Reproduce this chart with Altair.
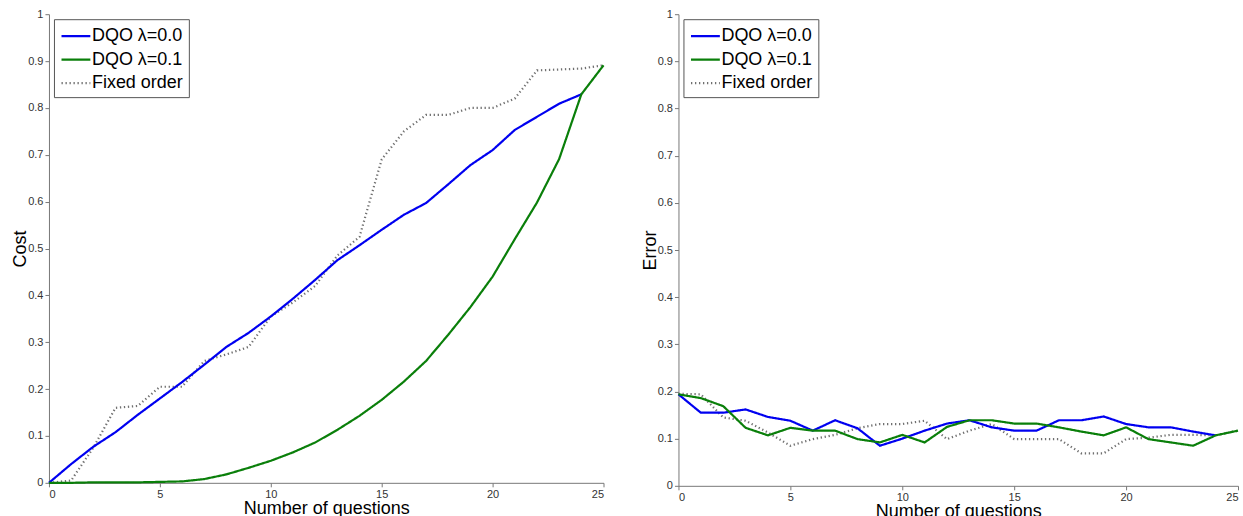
import altair as alt
import pandas as pd

# ---- data ----
questions = list(range(26))
series_names = ["DQO λ=0.0", "DQO λ=0.1", "Fixed order"]
series_colors = ["#0000f0", "#0a7f0a", "#707070"]
series_dashes = [[1, 0], [1, 0], [1.3, 2.7]]
series_widths = [2.2, 2.2, 1.4]

cost_dqo0 = [0.0, 0.040, 0.077, 0.108, 0.145, 0.180, 0.215, 0.252, 0.290, 0.320,
             0.355, 0.393, 0.433, 0.475, 0.507, 0.540, 0.572, 0.597, 0.637, 0.678,
             0.710, 0.753, 0.781, 0.809, 0.829]
cost_dqo1 = [0.0, 0.0, 0.001, 0.001, 0.001, 0.002, 0.003, 0.008, 0.018, 0.032,
             0.047, 0.065, 0.086, 0.113, 0.143, 0.177, 0.216, 0.260, 0.316, 0.375,
             0.440, 0.520, 0.598, 0.691, 0.829, 0.891]
cost_fixed = [0.0, 0.005, 0.075, 0.160, 0.164, 0.205, 0.205, 0.260, 0.274, 0.290,
              0.355, 0.385, 0.420, 0.485, 0.525, 0.690, 0.750, 0.785, 0.785, 0.800,
              0.800, 0.820, 0.880, 0.882, 0.884, 0.891]

err_dqo0 = [0.194, 0.155, 0.155, 0.162, 0.146, 0.138, 0.117, 0.139, 0.122, 0.085,
            0.100, 0.117, 0.132, 0.139, 0.124, 0.117, 0.117, 0.139, 0.139, 0.147,
            0.131, 0.124, 0.124, 0.115, 0.107]
err_dqo1 = [0.194, 0.186, 0.169, 0.123, 0.107, 0.123, 0.117, 0.117, 0.099, 0.092,
            0.108, 0.092, 0.125, 0.139, 0.139, 0.132, 0.132, 0.124, 0.115, 0.107,
            0.124, 0.099, 0.092, 0.085, 0.107, 0.117]
err_fixed = [0.195, 0.194, 0.145, 0.138, 0.113, 0.085, 0.099, 0.108, 0.122, 0.131,
             0.131, 0.138, 0.099, 0.117, 0.131, 0.099, 0.099, 0.099, 0.069, 0.069,
             0.099, 0.102, 0.108, 0.108, 0.107, 0.117]

x_ticks = [0, 5, 10, 15, 20, 25]
y_ticks = [0, 0.1, 0.2, 0.3, 0.4, 0.5, 0.6, 0.7, 0.8, 0.9, 1]
x_title = "Number of questions"


def make_df(dqo0, dqo1, fixed):
    rows = []
    for name, vals in [("Fixed order", fixed), ("DQO λ=0.0", dqo0), ("DQO λ=0.1", dqo1)]:
        for q, v in zip(questions, vals):
            rows.append({"q": q, "v": v, "series": name})
    return pd.DataFrame(rows)


def panel(df, ytitle, w, h):
    return alt.Chart(df).mark_line(strokeCap="butt").encode(
        x=alt.X("q:Q", scale=alt.Scale(domain=[0, 25], nice=False, zero=False),
                axis=alt.Axis(values=x_ticks, title=x_title, format="~g")),
        y=alt.Y("v:Q", scale=alt.Scale(domain=[0, 1], nice=False),
                axis=alt.Axis(values=y_ticks, title=ytitle, format="~g")),
        color=alt.Color("series:N",
                        scale=alt.Scale(domain=series_names, range=series_colors),
                        legend=alt.Legend(title=None)),
        strokeDash=alt.StrokeDash("series:N",
                                  scale=alt.Scale(domain=series_names, range=series_dashes),
                                  legend=alt.Legend(title=None)),
        strokeWidth=alt.StrokeWidth("series:N",
                                    scale=alt.Scale(domain=series_names, range=series_widths),
                                    legend=None),
    ).properties(width=w, height=h)


left = panel(make_df(cost_dqo0, cost_dqo1, cost_fixed), "Cost", 555, 469)
right = panel(make_df(err_dqo0, err_dqo1, err_fixed), "Error", 560, 472)

chart = alt.hconcat(left, right, spacing=32).resolve_scale(
    color="independent", strokeDash="independent", strokeWidth="independent"
).properties(
    padding={"left": 11, "top": 8, "right": 0, "bottom": 0},
    background="white",
).configure_view(stroke=None).configure_axis(
    grid=False,
    domainColor="#777777",
    tickColor="#777777",
    tickSize=4,
    labelPadding=2,
    labelFont="Liberation Sans",
    labelFontSize=11,
    labelColor="#333333",
    titleFont="Liberation Sans",
    titleFontSize=18,
    titleFontWeight="normal",
    titleColor="#000000",
).configure_axisX(titlePadding=0).configure_axisY(titlePadding=-2).configure_legend(
    orient="top-left",
    offset=5,
    padding=5,
    strokeColor="#555555",
    fillColor="white",
    cornerRadius=0,
    labelFont="Liberation Sans",
    labelFontSize=18,
    labelColor="#000000",
    symbolType="M-0.9,0H1.85",
    symbolSize=441,
    symbolStrokeWidth=2,
    rowPadding=2.5,
    labelOffset=9,
)

chart.save("out.html", embed_options={"renderer": "svg", "actions": False})
